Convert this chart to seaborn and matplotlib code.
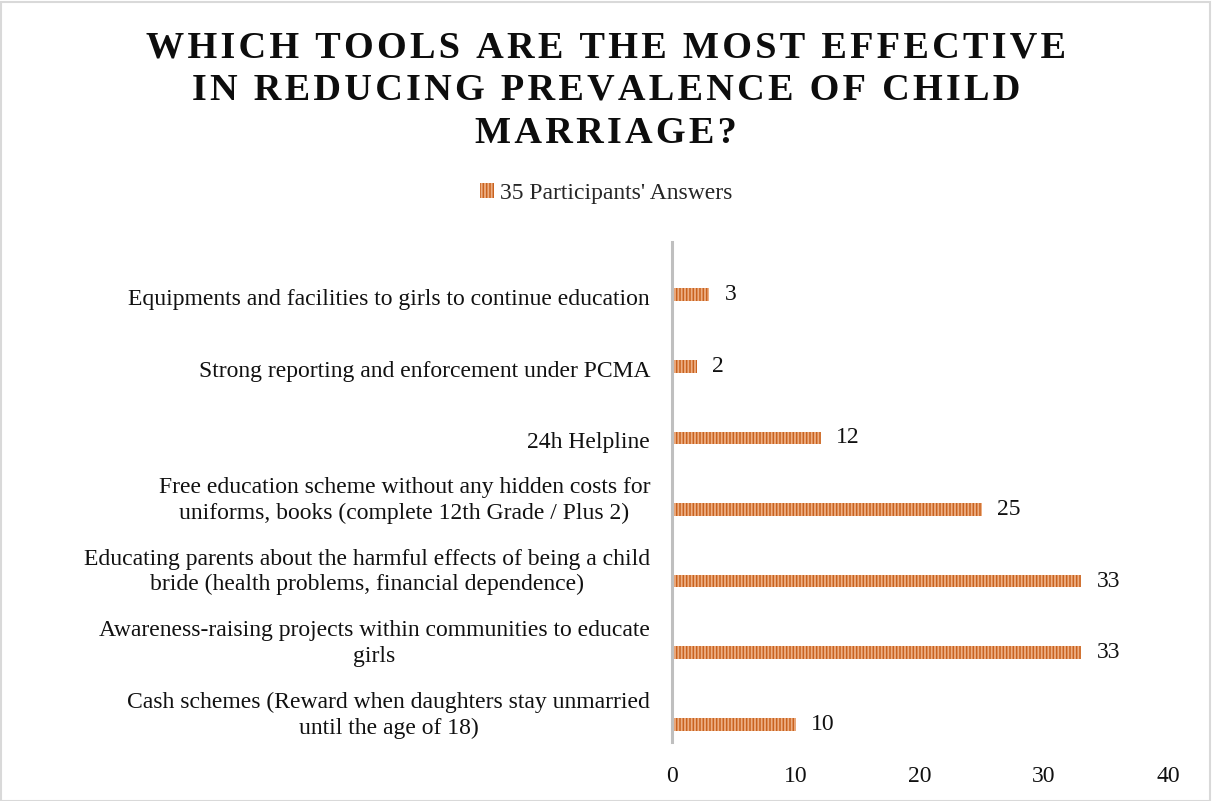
import matplotlib
matplotlib.use("Agg")
import matplotlib.pyplot as plt
import matplotlib.transforms as mtransforms
import seaborn as sns
import pandas as pd
from matplotlib.patches import Rectangle

categories = [
    "Equipments and facilities to girls to continue education",
    "Strong reporting and enforcement under PCMA",
    "24h Helpline",
    "Free education scheme without any hidden costs for\nuniforms, books (complete 12th Grade / Plus 2)",
    "Educating parents about the harmful effects of being a child\nbride (health problems, financial dependence)",
    "Awareness-raising projects within communities to educate\ngirls",
    "Cash schemes (Reward when daughters stay unmarried\nuntil the age of 18)",
]
answers = [3, 2, 12, 25, 33, 33, 10]
series_name = "35 Participants' Answers"
x_ticks = [0, 10, 20, 30, 40]
title_lines = [
    "WHICH TOOLS ARE THE MOST EFFECTIVE",
    "IN REDUCING PREVALENCE OF CHILD",
    "MARRIAGE?",
]

df = pd.DataFrame({"tool": categories, "count": answers})

sns.set_theme(style="white")
plt.rcParams["font.family"] = ["Liberation Serif", "DejaVu Serif"]
plt.rcParams["hatch.linewidth"] = 1.3

W, H = 1212, 801
fig = plt.figure(figsize=(W / 100, H / 100), dpi=100)
fig.patch.set_facecolor("white")

ax = fig.add_axes([672 / W, 1 - 742 / H, (1168 - 672) / W, 500 / H])

bar_color = "#C9621E"
stripe_color = "#EDAF84"
text_color = "#111111"
sns.barplot(data=df, y="tool", x="count", orient="h", color=bar_color,
            width=0.18, saturation=1, ax=ax)
for p in ax.patches:
    p.set_hatch("|||||")
    p.set_edgecolor(stripe_color)
    p.set_linewidth(0)

ax.set_xlim(0, 40)
ax.set_ylim(6.25, -0.74)
ax.set_xticks(x_ticks)
ax.set_xlabel("")
ax.set_ylabel("")
ax.set_yticks(range(len(categories)))
ax.set_yticklabels([])
ax.tick_params(axis="x", length=0, labelsize=17, pad=17, labelcolor=text_color)
ax.tick_params(axis="y", length=0)

# Category labels to the left of the axis
base = mtransforms.blended_transform_factory(ax.transAxes, ax.transData)
for i, cat in enumerate(categories):
    dy = -5 if "\n" not in cat else 9
    tr = base + mtransforms.ScaledTranslation(-22 / 100, dy / 100, fig.dpi_scale_trans)
    ax.text(0, i, cat, transform=tr, ha="right", va="center",
            multialignment="center", fontsize=17, color=text_color,
            linespacing=1.28)

for side in ["top", "right", "bottom"]:
    ax.spines[side].set_visible(False)
ax.spines["left"].set_color("#BFBFBF")
ax.spines["left"].set_linewidth(2.2)

# Value labels beside each bar, nudged down slightly to sit on the bar's centre
value_labels = ax.bar_label(ax.containers[0], padding=11, fontsize=17, color=text_color)
shift = mtransforms.ScaledTranslation(0, -3 / 100, fig.dpi_scale_trans)
for t in value_labels:
    t.set_transform(t.get_transform() + shift)

handle = Rectangle((0, 0), 1, 1, facecolor=bar_color, edgecolor=stripe_color,
                   hatch="|||||", linewidth=0)
fig.legend([handle], [series_name], loc="center",
           bbox_to_anchor=(0.5, 1 - 193 / H), frameon=False, fontsize=17,
           handlelength=0.6, handleheight=0.6, handletextpad=0.25)

# Title, letter-spaced with hair spaces
baselines = [57, 100, 143]
for line, yb in zip(title_lines, baselines):
    spaced = "\u200a".join(line)
    fig.text(0.5, 1 - yb / H, spaced, ha="center", va="baseline",
             fontsize=27.5, fontweight="bold", color="#0D0D0D")

fig.patches.append(Rectangle((0.5 / W, 0.5 / H), 1 - 3 / W, 1 - 2 / H,
                             transform=fig.transFigure, fill=False,
                             edgecolor="#D9D9D9", linewidth=1.5))

fig.savefig("out.png", dpi=100, facecolor="white")
